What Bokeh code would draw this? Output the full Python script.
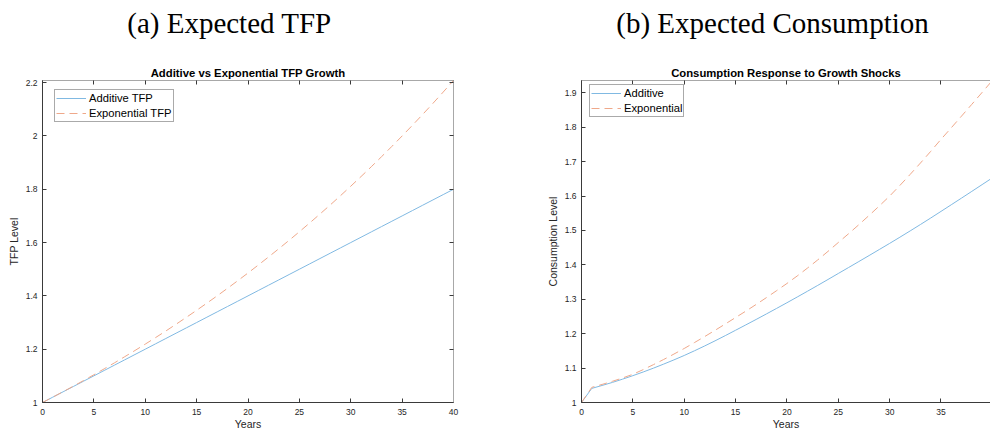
from bokeh.plotting import figure
from bokeh.layouts import row, column
from bokeh.models import (LinearAxis, FixedTicker, CustomJSTickFormatter, Title,
                          Legend, LegendItem, Range1d)
from bokeh.embed import file_html
from bokeh.resources import INLINE

# ---------------- data ----------------
years = list(range(41))

tfp_additive = [1.00, 1.02, 1.04, 1.06, 1.08, 1.10, 1.12, 1.14, 1.16, 1.18, 1.20,
                1.22, 1.24, 1.26, 1.28, 1.30, 1.32, 1.34, 1.36, 1.38, 1.40,
                1.42, 1.44, 1.46, 1.48, 1.50, 1.52, 1.54, 1.56, 1.58, 1.60,
                1.62, 1.64, 1.66, 1.68, 1.70, 1.72, 1.74, 1.76, 1.78, 1.80]

tfp_exponential = [1.0000, 1.0200, 1.0404, 1.0612, 1.0824, 1.1041, 1.1262, 1.1487, 1.1717, 1.1951, 1.2190,
                   1.2434, 1.2682, 1.2936, 1.3195, 1.3459, 1.3728, 1.4002, 1.4282, 1.4568, 1.4859,
                   1.5157, 1.5460, 1.5769, 1.6084, 1.6406, 1.6734, 1.7069, 1.7410, 1.7758, 1.8114,
                   1.8476, 1.8845, 1.9222, 1.9607, 1.9999, 2.0399, 2.0807, 2.1223, 2.1647, 2.2080]

cons_additive = [1.000, 1.041, 1.0495, 1.0583, 1.0679, 1.0780, 1.0886, 1.0998, 1.1116, 1.1239, 1.1367,
                 1.1503, 1.1645, 1.1792, 1.1944, 1.2100, 1.2256, 1.2414, 1.2574, 1.2736, 1.2900,
                 1.3066, 1.3234, 1.3404, 1.3576, 1.3750, 1.3923, 1.4097, 1.4272, 1.4448, 1.4625,
                 1.4805, 1.4988, 1.5174, 1.5363, 1.5555, 1.5748, 1.5942, 1.6137, 1.6333, 1.6530]

cons_exponential = [1.000, 1.044, 1.0525, 1.0615, 1.0713, 1.0820, 1.0955, 1.1100, 1.1250, 1.1408, 1.1570,
                    1.1742, 1.1918, 1.2098, 1.2282, 1.2470, 1.2656, 1.2849, 1.3048, 1.3252, 1.3460,
                    1.3678, 1.3907, 1.4145, 1.4393, 1.4650, 1.4905, 1.5168, 1.5438, 1.5715, 1.6000,
                    1.6310, 1.6631, 1.6961, 1.7300, 1.7650, 1.7985, 1.8325, 1.8667, 1.9012, 1.9360]

x_ticks = [0, 5, 10, 15, 20, 25, 30, 35, 40]
tfp_y_ticks = [1.0, 1.2, 1.4, 1.6, 1.8, 2.0, 2.2]
cons_y_ticks = [1.0, 1.1, 1.2, 1.3, 1.4, 1.5, 1.6, 1.7, 1.8, 1.9]

tfp_labels = ["Additive TFP", "Exponential TFP"]
cons_labels = ["Additive", "Exponential"]

# ---------------- styles ----------------
AX = "#3a3a3a"
BOX = "#a8a8a8"
BLUE = "#80b9e2"
ORANGE = "#efa88a"
SANS = "Liberation Sans"
SERIF = "Liberation Serif"
HEAD_H = 45


def fmt():
    return CustomJSTickFormatter(code="return String(Number(tick.toFixed(2)));")


def style_axis(ax, ticks, show_labels=True, line_color=AX):
    ax.ticker = FixedTicker(ticks=ticks)
    ax.formatter = fmt()
    ax.major_tick_in = 4
    ax.major_tick_out = 0
    ax.minor_tick_in = 0
    ax.minor_tick_out = 0
    ax.axis_line_color = line_color
    ax.major_tick_line_color = AX
    ax.major_label_text_font = SANS
    ax.axis_label_text_font = SANS
    ax.axis_label_text_font_style = "normal"
    ax.axis_label_text_color = "#262626"
    ax.axis_label_text_font_size = "10.5px"
    ax.major_label_text_line_height = 1.0
    ax.axis_label_text_line_height = 1.0
    if show_labels:
        ax.major_label_text_font_size = "8.5px"
        ax.major_label_text_color = "#262626"
    else:
        # tick marks only: the box sides carry no labels
        ax.major_label_text_font_size = "0px"
        ax.major_label_text_color = None
        ax.major_label_standoff = 0


def make_heading(text, left_border, right_border):
    h = figure(width=495, height=HEAD_H, output_backend="svg", toolbar_location=None,
               x_range=Range1d(0, 1), y_range=Range1d(0, 1),
               x_axis_location=None, y_axis_location=None, title=None,
               min_border_left=left_border, min_border_right=right_border,
               min_border_top=0, min_border_bottom=0)
    h.outline_line_color = None
    h.xgrid.visible = False
    h.ygrid.visible = False
    h.background_fill_color = "white"
    h.border_fill_color = "white"
    h.add_layout(Title(text=text, align="center", text_font=SERIF, text_font_size="29px",
                       text_font_style="normal", text_color="black", standoff=8), "above")
    return h


def make_panel(title, ylabel, x_end, y_end, y_ticks,
               ys, labels, legend_xy, left_border, right_border, right_axis):
    p = figure(width=495, height=432 - HEAD_H, output_backend="svg", toolbar_location=None,
               x_range=Range1d(0, x_end), y_range=Range1d(1, y_end),
               min_border_left=left_border, min_border_right=right_border,
               min_border_top=80 - HEAD_H, min_border_bottom=28, title=None)
    p.background_fill_color = "white"
    p.border_fill_color = "white"
    p.outline_line_color = None
    p.xgrid.visible = False
    p.ygrid.visible = False

    style_axis(p.xaxis[0], x_ticks)
    p.xaxis[0].axis_label = "Years"
    p.xaxis[0].major_label_standoff = 6
    p.xaxis[0].axis_label_standoff = 0
    style_axis(p.yaxis[0], y_ticks)
    p.yaxis[0].axis_label = ylabel
    p.yaxis[0].major_label_standoff = 5
    p.yaxis[0].axis_label_standoff = 3

    top = LinearAxis()
    style_axis(top, x_ticks, show_labels=False, line_color=BOX)
    p.add_layout(top, "above")
    if right_axis:
        rgt = LinearAxis()
        style_axis(rgt, y_ticks, show_labels=False, line_color=BOX)
        p.add_layout(rgt, "right")

    inner = Title(text=title, align="center", text_font=SANS, text_font_style="bold",
                  text_font_size="11.3px", text_color="black", standoff=4)
    p.add_layout(inner, "above")

    r1 = p.line(years, ys[0], line_color=BLUE, line_width=1)
    r2 = p.line(years, ys[1], line_color=ORANGE, line_width=1, line_dash="8 5")

    leg = Legend(items=[LegendItem(label=labels[0], renderers=[r1]),
                        LegendItem(label=labels[1], renderers=[r2])],
                 location=legend_xy, orientation="vertical",
                 label_text_font=SANS, label_text_font_size="11.2px", label_text_color="black",
                 label_text_line_height=1.0,
                 glyph_width=30, glyph_height=14, label_height=14, label_standoff=3,
                 spacing=1, padding=1, margin=0,
                 border_line_color="#555555", border_line_width=1,
                 background_fill_color="white", background_fill_alpha=1)
    p.add_layout(leg)
    return p


h1 = make_heading("(a) Expected TFP", 0, 37)
h2 = make_heading("(b) Expected Consumption", 59, 0)
p1 = make_panel("Additive vs Exponential TFP Growth", "TFP Level",
                40, 2.208, tfp_y_ticks, [tfp_additive, tfp_exponential], tfp_labels,
                (12, 280.5), 42, 42, True)
p2 = make_panel("Consumption Response to Growth Shocks",
                "Consumption Level", 39.82, 1.936, cons_y_ticks,
                [cons_additive, cons_exponential], cons_labels,
                (8, 285), 86, 0, False)

layout = column(row(h1, h2), row(p1, p2))
open("out.html", "w").write(file_html(layout, INLINE))
